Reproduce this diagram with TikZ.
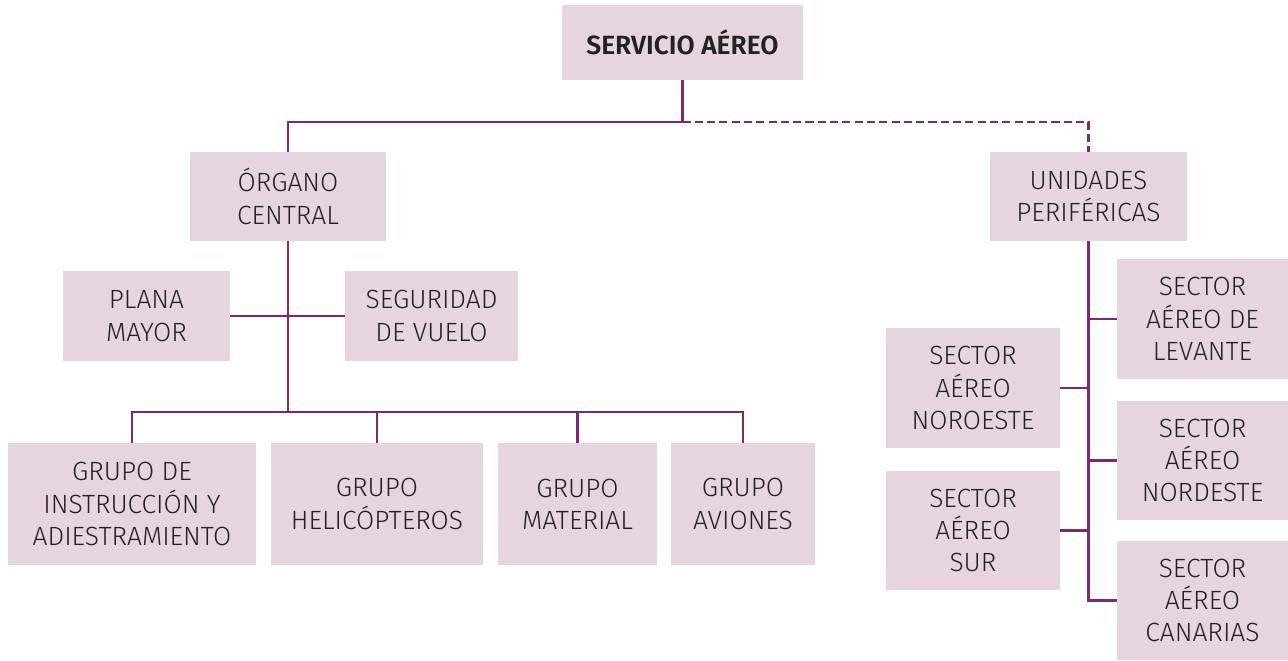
\documentclass[tikz,border=0pt]{standalone}
\usepackage{fontspec}
\setmainfont{Fira Sans}[UprightFont=* Light, BoldFont=* SemiBold]
\usepackage{xcolor}
\usepackage{tikz}
\usetikzlibrary{positioning, calc}

\definecolor{boxfill}{HTML}{E6D5E1}
\definecolor{linkcol}{HTML}{7B2A70}
\definecolor{txtcol}{HTML}{222222}

\begin{document}
\begin{tikzpicture}[
    x=0.02cm, y=-0.02cm,
    font=\fontsize{15}{18.4}\selectfont,
    box/.style    = {fill=boxfill, text=txtcol, align=center, inner sep=0pt,
                     minimum height=1.8cm},
    grp/.style    = {box, minimum height=2.44cm},
    sect/.style   = {box, minimum height=2.4cm},
    link/.style   = {draw=linkcol, line width=1.4pt},
    dlink/.style  = {link, dash pattern=on 4.6pt off 2.4pt}
]
\useasboundingbox (0,0) rectangle (1288,660);

% ---------------- top ----------------
\node[box, minimum width=4.82cm, minimum height=1.5cm, font=\fontsize{15}{18.4}\selectfont\bfseries]
      (serv) at (682.5,42.5) {SERVICIO AÉREO};

% ---------------- second level ----------------
\node[box, minimum width=3.92cm, minimum height=1.78cm] (organo)   at (288,196.5)  {ÓRGANO\\CENTRAL};
\node[box, minimum width=3.94cm, minimum height=1.78cm] (unidades) at (1088.5,196.5) {UNIDADES\\PERIFÉRICAS};

% ---------------- staff ----------------
\node[box, minimum width=3.34cm] (plana)     at (146.5,316) {PLANA\\MAYOR};
\node[box, minimum width=3.46cm] (seguridad) at (431.5,316) {SEGURIDAD\\DE VUELO};

% ---------------- groups ----------------
\node[grp, minimum width=4.96cm] (instr)    at (132,504)   {GRUPO DE\\INSTRUCCIÓN Y\\ADIESTRAMIENTO};
\node[grp, minimum width=4.24cm] (heli)     at (377,504)   {GRUPO\\HELICÓPTEROS};
\node[grp, minimum width=3.18cm] (material) at (577.5,504) {GRUPO\\MATERIAL};
\node[grp, minimum width=2.88cm] (aviones)  at (743,504)   {GRUPO\\AVIONES};

% ---------------- air sectors ----------------
\node[sect, minimum width=3.42cm] (levante)  at (1202.5,319)   {SECTOR\\AÉREO DE\\LEVANTE};
\node[sect, minimum width=3.42cm] (nordeste) at (1202.5,460.5) {SECTOR\\AÉREO\\NORDESTE};
\node[sect, minimum width=3.42cm] (canarias) at (1202.5,600.5) {SECTOR\\AÉREO\\CANARIAS};
\node[sect, minimum width=3.48cm] (noroeste) at (973,388)      {SECTOR\\AÉREO\\NOROESTE};
\node[sect, minimum width=3.48cm] (sur)      at (973,530.5)    {SECTOR\\AÉREO\\SUR};

% routing helper coordinates
\coordinate (bus_top) at (682.5,122);
\coordinate (bus_grp) at (288,412);

% ============= connectors =============
\draw[link]  (serv.south) -- (bus_top) -| (organo.north);
\draw[dlink] (bus_top) -| (unidades.north);

% central body -> staff and groups
\draw[link] (organo.south) -- (bus_grp);
\draw[link] (plana.east) -- (seguridad.west);
\foreach \g in {instr, heli, material, aviones}
    \draw[link] (bus_grp) -| (\g.north);

% peripheral units -> sectors
\draw[link] (unidades.south) |- (canarias.west);
\foreach \s in {levante, nordeste}
    \draw[link] (\s.west) -- (\s.west -| unidades.south);
\foreach \s in {noroeste, sur}
    \draw[link] (\s.east) -- (\s.east -| unidades.south);

\end{tikzpicture}
\end{document}
